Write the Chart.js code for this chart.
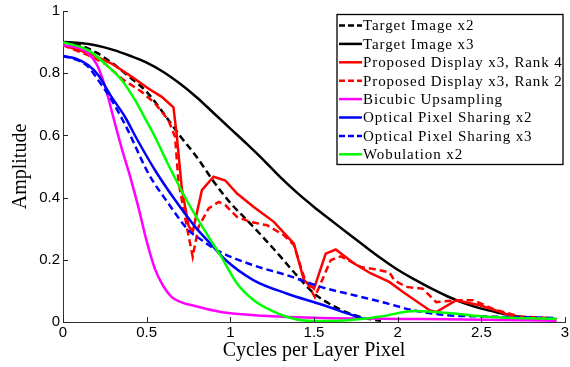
<!DOCTYPE html>
<html>
<head>
<meta charset="utf-8">
<script src="https://cdn.jsdelivr.net/npm/chart.js@4/dist/chart.umd.min.js"></script>
<style>
html, body { margin: 0; padding: 0; background: #fff; }
</style>
</head>
<body>
<canvas id="mtf" width="570" height="367"></canvas>
<script>
// curves, [cycles per layer pixel, amplitude]
let targetX2 = [[0,0.9],[0.1,0.89],[0.2,0.866],[0.3,0.83],[0.4,0.787],[0.5,0.74],[0.6,0.672],[0.7,0.598],[0.8,0.53],[0.9,0.452],[1.0,0.383],[1.1,0.327],[1.2,0.27],[1.3,0.21],[1.4,0.148],[1.5,0.092],[1.6,0.056],[1.7,0.03],[1.8,0.013],[1.9,0.004]];
let targetX3 = [[0,0.9],[0.1,0.897],[0.2,0.889],[0.3,0.875],[0.4,0.856],[0.5,0.834],[0.6,0.804],[0.7,0.766],[0.8,0.722],[0.9,0.672],[1.0,0.622],[1.1,0.572],[1.2,0.52],[1.3,0.465],[1.4,0.415],[1.5,0.37],[1.6,0.328],[1.7,0.286],[1.8,0.245],[1.9,0.205],[2.0,0.168],[2.1,0.137],[2.2,0.108],[2.3,0.082],[2.4,0.06],[2.5,0.043],[2.6,0.03],[2.7,0.019],[2.8,0.013],[2.9,0.01]];
let rank4 = [[0,0.89],[0.15,0.865],[0.29,0.831],[0.41,0.789],[0.51,0.751],[0.59,0.724],[0.66,0.69],[0.68,0.6],[0.71,0.43],[0.75,0.31],[0.775,0.29],[0.83,0.424],[0.9,0.467],[0.97,0.455],[1.04,0.413],[1.14,0.37],[1.26,0.322],[1.38,0.252],[1.44,0.134],[1.5,0.107],[1.57,0.22],[1.63,0.233],[1.74,0.188],[1.84,0.156],[1.95,0.129],[2.03,0.097],[2.19,0.038],[2.23,0.032],[2.35,0.07],[2.49,0.054],[2.6,0.035],[2.69,0.018],[2.8,0.012],[2.95,0.01]];
let rank2 = [[0,0.89],[0.15,0.858],[0.25,0.831],[0.35,0.783],[0.47,0.74],[0.55,0.703],[0.63,0.649],[0.67,0.595],[0.69,0.45],[0.74,0.306],[0.775,0.21],[0.81,0.306],[0.87,0.365],[0.93,0.386],[0.97,0.376],[1.04,0.338],[1.12,0.322],[1.22,0.311],[1.32,0.279],[1.38,0.247],[1.44,0.145],[1.505,0.08],[1.6,0.199],[1.66,0.211],[1.78,0.177],[1.86,0.17],[1.95,0.16],[1.98,0.134],[2.05,0.113],[2.15,0.107],[2.23,0.064],[2.35,0.07],[2.45,0.07],[2.59,0.038],[2.73,0.018],[2.93,0.012]];
let bicubic = [[0,0.89],[0.1,0.88],[0.15,0.864],[0.2,0.83],[0.25,0.76],[0.3,0.66],[0.35,0.56],[0.4,0.47],[0.45,0.37],[0.5,0.26],[0.55,0.17],[0.6,0.115],[0.65,0.08],[0.7,0.065],[0.8,0.05],[0.9,0.037],[1.0,0.028],[1.2,0.02],[1.4,0.015],[1.6,0.012],[1.8,0.011],[2.0,0.01],[2.4,0.008],[2.95,0.004]];
let opsX2 = [[0,0.855],[0.07,0.848],[0.15,0.826],[0.21,0.794],[0.29,0.724],[0.37,0.66],[0.44,0.59],[0.55,0.488],[0.67,0.392],[0.79,0.306],[0.89,0.247],[0.97,0.2],[1.14,0.134],[1.34,0.091],[1.54,0.057],[1.74,0.02],[1.8,0.01]];
let opsX3 = [[0,0.855],[0.07,0.845],[0.15,0.821],[0.21,0.778],[0.29,0.714],[0.38,0.625],[0.51,0.478],[0.63,0.381],[0.75,0.295],[0.83,0.263],[0.93,0.228],[1.14,0.182],[1.34,0.15],[1.54,0.113],[1.74,0.086],[1.9,0.065],[2.09,0.038],[2.29,0.022],[2.5,0.018],[2.95,0.013]];
let wobulation = [[0,0.9],[0.15,0.874],[0.25,0.831],[0.35,0.778],[0.43,0.714],[0.49,0.655],[0.55,0.595],[0.63,0.505],[0.75,0.381],[0.87,0.274],[0.94,0.215],[1.04,0.124],[1.14,0.07],[1.24,0.038],[1.34,0.016],[1.44,0.005],[1.6,0.003],[1.75,0.008],[1.9,0.018],[2.1,0.035],[2.3,0.029],[2.5,0.018],[2.95,0.01]];

let labels = ['Target Image x2', 'Target Image x3', 'Proposed Display x3, Rank 4', 'Proposed Display x3, Rank 2',
  'Bicubic Upsampling', 'Optical Pixel Sharing x2', 'Optical Pixel Sharing x3', 'Wobulation x2'];
let xTicks = [0, 0.5, 1, 1.5, 2, 2.5, 3];
let yTicks = [0, 0.2, 0.4, 0.6, 0.8, 1];

function toXY(arr) {
  return arr.map(p => ({x: p[0], y: p[1]}));
}

function series(i, arr, color, dashed, smooth) {
  return {
    label: labels[i],
    data: toXY(arr),
    borderColor: color,
    backgroundColor: color,
    borderWidth: 2.5,
    borderDash: dashed ? [7, 4] : [],
    pointRadius: 0,
    fill: false,
    tension: 0,
    cubicInterpolationMode: smooth ? 'monotone' : 'default',
    order: 8 - i
  };
}

// matlab style ticks pointing into the axes
const innerTicks = {
  id: 'innerTicks',
  afterDatasetsDraw(chart) {
    let ctx = chart.ctx;
    let a = chart.chartArea;
    ctx.save();
    ctx.strokeStyle = '#262626';
    ctx.lineWidth = 1;
    ctx.beginPath();
    xTicks.forEach(v => {
      let px = Math.round(chart.scales.x.getPixelForValue(v)) + 0.5;
      ctx.moveTo(px, a.bottom);
      ctx.lineTo(px, a.bottom - 5);
    });
    yTicks.forEach(v => {
      let py = Math.round(chart.scales.y.getPixelForValue(v)) + 0.5;
      ctx.moveTo(a.left, py);
      ctx.lineTo(a.left + 5, py);
    });
    ctx.stroke();
    ctx.restore();
  }
};

const boxLegend = {
  id: 'boxLegend',
  afterDraw(chart) {
    let ctx = chart.ctx;
    let x0 = 337, y0 = 14.5, w = 226, h = 150;
    ctx.save();
    ctx.fillStyle = '#fff';
    ctx.fillRect(x0, y0, w, h);
    ctx.strokeStyle = '#000';
    ctx.lineWidth = 1.3;
    ctx.strokeRect(x0, y0, w, h);
    ctx.font = '15px "Liberation Serif"';
    ctx.letterSpacing = '0.9px';
    ctx.textBaseline = 'middle';
    ctx.fillStyle = '#000';
    chart.data.datasets.forEach((ds, i) => {
      let y = y0 + 11 + i * 18.4;
      ctx.strokeStyle = ds.borderColor;
      ctx.lineWidth = 2.5;
      ctx.setLineDash(ds.borderDash.length ? [6, 3] : []);
      ctx.beginPath();
      ctx.moveTo(x0 + 2, y);
      ctx.lineTo(x0 + 25, y);
      ctx.stroke();
      ctx.setLineDash([]);
      ctx.fillText(ds.label, x0 + 26, y + 1);
    });
    ctx.restore();
  }
};

let myChart = new Chart(document.getElementById('mtf'), {
  type: 'line',
  data: {
    datasets: [
      series(0, targetX2, '#000000', true, true),
      series(1, targetX3, '#000000', false, true),
      series(2, rank4, '#ff0000', false, false),
      series(3, rank2, '#ff0000', true, false),
      series(4, bicubic, '#ff00ff', false, true),
      series(5, opsX2, '#0000ff', false, true),
      series(6, opsX3, '#0000ff', true, true),
      series(7, wobulation, '#00ff00', false, true)
    ]
  },
  options: {
    responsive: false,
    animation: false,
    devicePixelRatio: 1,
    layout: { padding: { left: 0, right: 5, top: 11, bottom: 0 } },
    plugins: {
      legend: { display: false },
      tooltip: { enabled: false }
    },
    scales: {
      x: {
        type: 'linear',
        min: 0,
        max: 3,
        afterBuildTicks: s => { s.ticks = xTicks.map(v => ({value: v})); },
        afterFit: s => { s.height = 45; s.paddingLeft = 0; s.paddingRight = 5; },
        grid: { display: false, drawTicks: false },
        border: { display: true, color: '#333', width: 1 },
        ticks: {
          color: '#000',
          padding: 2,
          maxRotation: 0,
          font: { family: '"Liberation Sans"', size: 15 },
          callback: v => String(v)
        },
        title: {
          display: true,
          text: 'Cycles per Layer Pixel',
          color: '#000',
          font: { family: '"Liberation Serif"', size: 20 },
          padding: { top: 0, bottom: 4 }
        }
      },
      y: {
        min: 0,
        max: 1,
        afterBuildTicks: s => { s.ticks = yTicks.map(v => ({value: v})); },
        afterFit: s => { s.width = 63; s.paddingTop = 0; s.paddingBottom = 0; },
        grid: { display: false, drawTicks: false },
        border: { display: true, color: '#333', width: 1 },
        ticks: {
          color: '#000',
          padding: 3,
          font: { family: '"Liberation Sans"', size: 15 },
          callback: v => String(v)
        },
        title: {
          display: true,
          text: 'Amplitude',
          color: '#000',
          font: { family: '"Liberation Serif"', size: 20 },
          padding: { top: 9, bottom: 0 }
        }
      }
    }
  },
  plugins: [innerTicks, boxLegend]
});
</script>
</body>
</html>
